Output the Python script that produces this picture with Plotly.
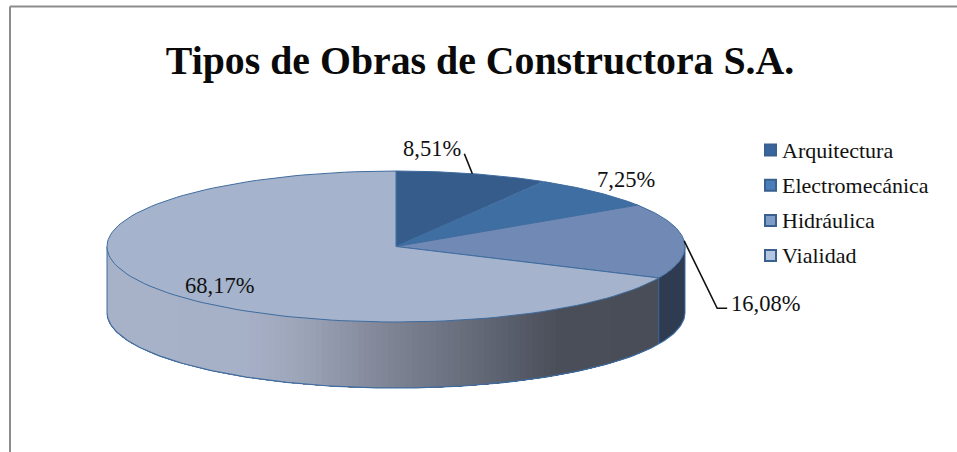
import numpy as np
import plotly.graph_objects as go

# === DATA ===
categories = ['Arquitectura', 'Electromecánica', 'Hidráulica', 'Vialidad']
percentages = [8.51, 7.25, 16.08, 68.17]
labels = ['8,51%', '7,25%', '16,08%', '68,17%']
title_text = 'Tipos de Obras de Constructora S.A.'

# === STYLE ===
top_colors = ['#355c8a', '#3f6ea2', '#7089b5', '#a5b4cc']
legend_colors = ['#38669c', '#4a7dba', '#7f9cc6', '#b5c6e0']
edge_color = '#3f6c9f'
dark_wall = '#2f3b50'
serif = 'Liberation Serif'

# pie geometry in page pixels
W, H = 957, 452
CX, CY, RX, RY, DEPTH = 396, 246.5, 289, 75.5, 66

# wall shading: x position -> colour
wall_x = [107, 250, 300, 400, 480, 560, 660]
wall_r = [168, 166, 158, 124, 100, 74, 72]
wall_g = [178, 176, 166, 130, 106, 79, 77]
wall_b = [200, 198, 186, 146, 120, 90, 87]


def ellipse(theta_deg, dy=0):
    t = np.radians(theta_deg)
    return CX + RX * np.sin(t), CY - RY * np.cos(t) + dy


def add_wall(start, col):
    # every band runs to the far left end, the next one paints over it
    tt = np.linspace(start, 270, 60)
    xt, yt = ellipse(tt)
    xb, yb = ellipse(tt[::-1], DEPTH)
    fig.add_trace(go.Scatter(
        x=np.concatenate([xt, xb]), y=np.concatenate([yt, yb]),
        mode='none', fill='toself', fillcolor=col,
        hoverinfo='skip', showlegend=False
    ))


# slice boundaries, clockwise from 12 o'clock
edges = np.concatenate([[0], np.cumsum(percentages) / sum(percentages) * 360])
mids = (edges[:-1] + edges[1:]) / 2

fig = go.Figure()

# side wall, only the front half of the pie shows
add_wall(90, dark_wall)
for x_band in range(int(ellipse(edges[3])[0]), int(CX - RX), -6):
    s = np.clip((x_band - CX) / RX, -1, 1)
    angle = 180 - np.degrees(np.arcsin(s))
    add_wall(max(angle, edges[3]), 'rgb(%d,%d,%d)' % (np.interp(x_band, wall_x, wall_r),
                                                      np.interp(x_band, wall_x, wall_g),
                                                      np.interp(x_band, wall_x, wall_b)))

# outline of the wall
tt = np.linspace(90, 270, 200)
x_low, y_low = ellipse(tt, DEPTH)
fig.add_trace(go.Scatter(x=x_low, y=y_low, mode='lines',
                         line=dict(color=edge_color, width=1.2),
                         hoverinfo='skip', showlegend=False))
for side in [90, edges[3], 270]:
    x0, y0 = ellipse(side)
    x1, y1 = ellipse(side, DEPTH)
    fig.add_trace(go.Scatter(x=[x0, x1], y=[y0, y1], mode='lines',
                             line=dict(color=edge_color, width=1),
                             hoverinfo='skip', showlegend=False))

# top face slices
for i, col in enumerate(top_colors):
    tt = np.linspace(edges[i], edges[i + 1], 120)
    xs, ys = ellipse(tt)
    fig.add_trace(go.Scatter(
        x=np.concatenate([[CX], xs, [CX]]), y=np.concatenate([[CY], ys, [CY]]),
        mode='lines', fill='toself', fillcolor=col,
        line=dict(color=edge_color, width=1),
        hoverinfo='skip', showlegend=False
    ))

# leader lines start at the middle of the slice edge
x_m, y_m = ellipse(mids[0])
fig.add_trace(go.Scatter(x=[x_m, x_m - 8], y=[y_m, y_m - 20], mode='lines',
                         line=dict(color='#111111', width=1.6),
                         hoverinfo='skip', showlegend=False))
x_m, y_m = ellipse(mids[2])
fig.add_trace(go.Scatter(x=[x_m, x_m + 33, x_m + 43], y=[y_m, y_m + 67.5, y_m + 67.5],
                         mode='lines', line=dict(color='#111111', width=1.6),
                         hoverinfo='skip', showlegend=False))

# legend, swatch and text sit closer than the built in legend allows
for i, (name, col) in enumerate(zip(categories, legend_colors)):
    fig.add_trace(go.Scatter(
        x=[770.5], y=[150 + 35.2 * i], mode='markers', name=name,
        marker=dict(symbol='square', size=11, color=col,
                    line=dict(color='#3a6090', width=2)),
        showlegend=False
    ))
    fig.add_annotation(x=780, y=150 + 35.2 * i, xref='x', yref='y', text=name,
                       showarrow=False, xanchor='left',
                       font=dict(family=serif, size=22, color='#111111'))

# data labels
label_pos = [(432, 148), (626, 179), (765, 303), (219, 285)]
for text, (lx, ly) in zip(labels, label_pos):
    fig.add_annotation(x=lx, y=ly, xref='x', yref='y', text=text, showarrow=False,
                       font=dict(family=serif, size=22.5, color='#111111'))

# chart frame, only top and left edges are visible
fig.add_shape(type='line', xref='paper', yref='paper', x0=10 / W, x1=1,
              y0=1 - 6.5 / H, y1=1 - 6.5 / H, line=dict(color='#8c8c8c', width=2))
fig.add_shape(type='line', xref='paper', yref='paper', x0=10 / W, x1=10 / W,
              y0=0, y1=1 - 6.5 / H, line=dict(color='#8c8c8c', width=2))

fig.update_layout(
    width=W, height=H,
    margin=dict(l=0, r=0, t=0, b=0),
    paper_bgcolor='white', plot_bgcolor='white',
    showlegend=False,
    title=dict(text='<b>' + title_text + '</b>', x=480 / W, xanchor='center',
               y=1 - 60 / H, yanchor='middle',
               font=dict(family=serif, size=39.8, color='#0a0a0a')),
    xaxis=dict(range=[0, W], visible=False, fixedrange=True),
    yaxis=dict(range=[H, 0], visible=False, fixedrange=True),
)

fig.write_html("out.html", config={'displayModeBar': False},
               post_script="document.body.style.margin='0';")
